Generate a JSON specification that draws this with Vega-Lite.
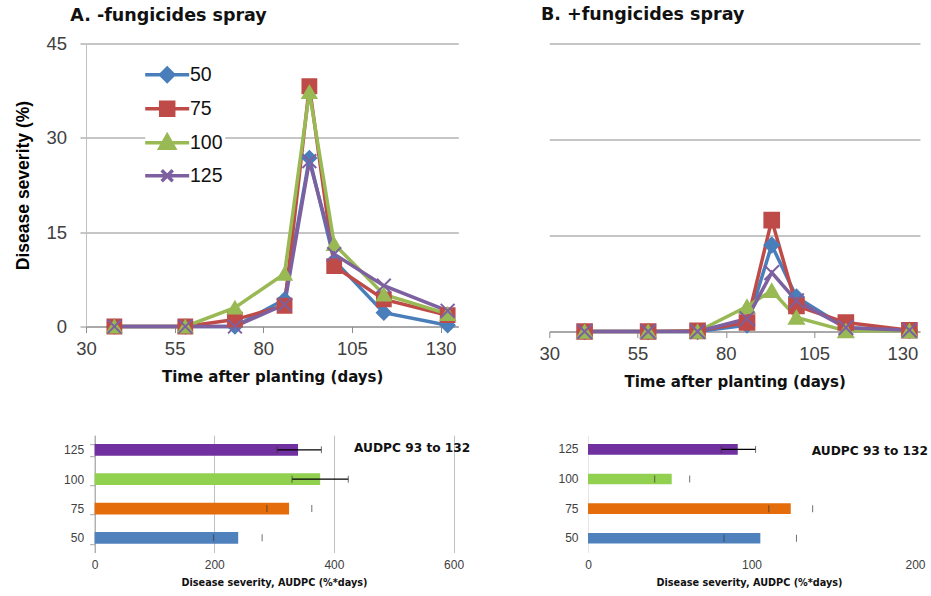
{
  "$schema": "https://vega.github.io/schema/vega-lite/v6.json",
  "background": "white",
  "padding": {"left": 14, "top": 5.5, "right": 0, "bottom": 0},
  "config": {"view": {"stroke": null}, "font": "Liberation Sans"},
  "datasets": {
    "severity": [
      {"panel": "A", "treatment": "50", "day": 38, "severity": 0},
      {"panel": "A", "treatment": "50", "day": 58, "severity": 0},
      {"panel": "A", "treatment": "50", "day": 72, "severity": 0},
      {"panel": "A", "treatment": "50", "day": 86, "severity": 4.3},
      {"panel": "A", "treatment": "50", "day": 93, "severity": 26.8},
      {"panel": "A", "treatment": "50", "day": 100, "severity": 10.5},
      {"panel": "A", "treatment": "50", "day": 114, "severity": 2.2},
      {"panel": "A", "treatment": "50", "day": 132, "severity": 0.2},
      {"panel": "A", "treatment": "75", "day": 38, "severity": 0},
      {"panel": "A", "treatment": "75", "day": 58, "severity": 0},
      {"panel": "A", "treatment": "75", "day": 72, "severity": 1.1},
      {"panel": "A", "treatment": "75", "day": 86, "severity": 3.3},
      {"panel": "A", "treatment": "75", "day": 93, "severity": 38.2},
      {"panel": "A", "treatment": "75", "day": 100, "severity": 9.6},
      {"panel": "A", "treatment": "75", "day": 114, "severity": 4.3},
      {"panel": "A", "treatment": "75", "day": 132, "severity": 1.8},
      {"panel": "A", "treatment": "100", "day": 38, "severity": 0},
      {"panel": "A", "treatment": "100", "day": 58, "severity": 0},
      {"panel": "A", "treatment": "100", "day": 72, "severity": 3.0},
      {"panel": "A", "treatment": "100", "day": 86, "severity": 8.4},
      {"panel": "A", "treatment": "100", "day": 93, "severity": 37.3},
      {"panel": "A", "treatment": "100", "day": 100, "severity": 13.1},
      {"panel": "A", "treatment": "100", "day": 114, "severity": 5.1},
      {"panel": "A", "treatment": "100", "day": 132, "severity": 2.0},
      {"panel": "A", "treatment": "125", "day": 38, "severity": 0},
      {"panel": "A", "treatment": "125", "day": 58, "severity": 0},
      {"panel": "A", "treatment": "125", "day": 72, "severity": 0},
      {"panel": "A", "treatment": "125", "day": 86, "severity": 3.5},
      {"panel": "A", "treatment": "125", "day": 93, "severity": 26.3},
      {"panel": "A", "treatment": "125", "day": 100, "severity": 11.5},
      {"panel": "A", "treatment": "125", "day": 114, "severity": 6.5},
      {"panel": "A", "treatment": "125", "day": 132, "severity": 2.5},
      {"panel": "B", "treatment": "50", "day": 40, "severity": 0},
      {"panel": "B", "treatment": "50", "day": 58, "severity": 0},
      {"panel": "B", "treatment": "50", "day": 72, "severity": 0},
      {"panel": "B", "treatment": "50", "day": 86, "severity": 1.0},
      {"panel": "B", "treatment": "50", "day": 93, "severity": 13.5},
      {"panel": "B", "treatment": "50", "day": 100, "severity": 5.4},
      {"panel": "B", "treatment": "50", "day": 114, "severity": 0.6},
      {"panel": "B", "treatment": "50", "day": 132, "severity": 0.2},
      {"panel": "B", "treatment": "75", "day": 40, "severity": 0},
      {"panel": "B", "treatment": "75", "day": 58, "severity": 0},
      {"panel": "B", "treatment": "75", "day": 72, "severity": 0.1},
      {"panel": "B", "treatment": "75", "day": 86, "severity": 1.4},
      {"panel": "B", "treatment": "75", "day": 93, "severity": 17.4},
      {"panel": "B", "treatment": "75", "day": 100, "severity": 4.0},
      {"panel": "B", "treatment": "75", "day": 114, "severity": 1.4},
      {"panel": "B", "treatment": "75", "day": 132, "severity": 0.2},
      {"panel": "B", "treatment": "100", "day": 40, "severity": 0},
      {"panel": "B", "treatment": "100", "day": 58, "severity": 0},
      {"panel": "B", "treatment": "100", "day": 72, "severity": 0},
      {"panel": "B", "treatment": "100", "day": 86, "severity": 3.9},
      {"panel": "B", "treatment": "100", "day": 93, "severity": 6.4},
      {"panel": "B", "treatment": "100", "day": 100, "severity": 2.2},
      {"panel": "B", "treatment": "100", "day": 114, "severity": 0.1},
      {"panel": "B", "treatment": "100", "day": 132, "severity": 0.1},
      {"panel": "B", "treatment": "125", "day": 40, "severity": 0},
      {"panel": "B", "treatment": "125", "day": 58, "severity": 0},
      {"panel": "B", "treatment": "125", "day": 72, "severity": 0},
      {"panel": "B", "treatment": "125", "day": 86, "severity": 2.0},
      {"panel": "B", "treatment": "125", "day": 93, "severity": 9.2},
      {"panel": "B", "treatment": "125", "day": 100, "severity": 4.8},
      {"panel": "B", "treatment": "125", "day": 114, "severity": 0.6},
      {"panel": "B", "treatment": "125", "day": 132, "severity": 0.2}
    ],
    "audpc": [
      {"panel": "A", "treatment": "125", "value": 340, "lo": 305, "hi": 379},
      {"panel": "A", "treatment": "100", "value": 377, "lo": 330, "hi": 424},
      {"panel": "A", "treatment": "75", "value": 325, "lo": 288, "hi": 363},
      {"panel": "A", "treatment": "50", "value": 240, "lo": 199, "hi": 280},
      {"panel": "B", "treatment": "125", "value": 91.6, "lo": 81.5, "hi": 102.5},
      {"panel": "B", "treatment": "100", "value": 51.2, "lo": 40.8, "hi": 62.2},
      {"panel": "B", "treatment": "75", "value": 124, "lo": 110.6, "hi": 137.4},
      {"panel": "B", "treatment": "50", "value": 105.4, "lo": 83.2, "hi": 127.5}
    ]
  },
  "columns": 2,
  "bounds": "flush",
  "align": {"row": "each", "column": "none"},
  "spacing": {"row": 103.7, "column": 90.3},
  "resolve": {"scale": {"color": "independent", "shape": "independent", "stroke": "independent"}},
  "concat": [
    {
      "width": 372.3,
      "height": 283,
      "data": {"name": "severity"},
      "transform": [{"filter": "datum.panel == 'A'"}],
      "title": {"text": "A. -fungicides spray", "anchor": "start", "frame": "group", "dx": -15.7, "offset": 9.85, "font": "DejaVu Sans", "fontSize": 17.5, "fontWeight": "bold", "color": "#111111"},
      "encoding": {
        "x": {"field": "day", "type": "quantitative", "scale": {"domain": [30, 135], "nice": false, "zero": false},
          "axis": {"values": [30, 55, 80, 105, 130], "title": "Time after planting (days)", "titleFont": "DejaVu Sans", "titleFontSize": 15, "titleFontWeight": "bold", "titleColor": "#111111", "titlePadding": 11, "labelFont": "Liberation Sans", "labelFontSize": 18.5, "labelColor": "#404040", "labelPadding": 7, "tickSize": 6, "tickColor": "#8c8c8c", "domainColor": "#8c8c8c", "grid": false, "labelFlush": false, "labelOverlap": false}},
        "y": {"field": "severity", "type": "quantitative", "scale": {"domain": [0, 45], "nice": false},
          "axis": {"values": [0, 15, 30, 45], "title": "Disease severity (%)", "titleFont": "Liberation Sans", "titleFontSize": 17.5, "titleFontWeight": "bold", "titleColor": "#000000", "titlePadding": 13, "labelFont": "Liberation Sans", "labelFontSize": 18.5, "labelColor": "#404040", "labelPadding": 13.5, "tickSize": 6, "tickColor": "#8c8c8c", "domainColor": "#c0c0c0", "grid": true, "gridColor": "#8c8c8c", "labelFlush": false}}
      },
      "layer": [
        {"mark": {"type": "line", "strokeWidth": 3.5},
          "encoding": {"color": {"field": "treatment", "type": "nominal", "scale": {"domain": ["50", "75", "100", "125"], "range": ["#4A7EBB", "#BE4B48", "#98B954", "#7D60A0"]}, "legend": null}}},
        {"mark": {"type": "point", "filled": true, "size": 190, "strokeWidth": 2, "opacity": 1},
          "encoding": {
            "color": {"field": "treatment", "type": "nominal", "scale": {"domain": ["50", "75", "100", "125"], "range": ["#4A7EBB", "#BE4B48", "#98B954", "#7D60A0"]}, "legend": null},
            "stroke": {"field": "treatment", "type": "nominal", "scale": {"domain": ["50", "75", "100", "125"], "range": ["#4A7EBB", "#BE4B48", "#98B954", "#7D60A0"]}, "legend": null},
            "shape": {"field": "treatment", "type": "nominal", "scale": {"domain": ["50", "75", "100", "125"], "range": ["diamond", "square", "triangle-up", "M-1,-1L1,1M-1,1L1,-1"]}, "legend": null}
          }},
        {"transform": [{"filter": "datum.day < 0"}],
          "mark": {"type": "point", "filled": true, "size": 1267, "strokeWidth": 3.5, "opacity": 1},
          "encoding": {
            "color": {"field": "treatment", "type": "nominal", "scale": {"domain": ["50", "75", "100", "125"], "range": ["#4A7EBB", "#BE4B48", "#98B954", "#7D60A0"]},
              "legend": {"orient": "none", "legendX": 59.2, "legendY": 9.2, "title": null, "symbolSize": 1267, "symbolStrokeWidth": 3.5, "labelFont": "Liberation Sans", "labelFontSize": 19.5, "labelColor": "#111111", "labelOffset": 2.8, "rowPadding": 0, "padding": 2, "fillColor": "white"}},
            "stroke": {"field": "treatment", "type": "nominal", "scale": {"domain": ["50", "75", "100", "125"], "range": ["#4A7EBB", "#BE4B48", "#98B954", "#7D60A0"]},
              "legend": {"orient": "none", "legendX": 59.2, "legendY": 9.2, "title": null, "symbolSize": 1267, "symbolStrokeWidth": 3.5, "labelFont": "Liberation Sans", "labelFontSize": 19.5, "labelColor": "#111111", "labelOffset": 2.8, "rowPadding": 0, "padding": 2, "fillColor": "white"}},
            "shape": {"field": "treatment", "type": "nominal", "scale": {"domain": ["50", "75", "100", "125"], "range": ["M-1.236,0H1.236M0,-0.365L0.365,0L0,0.365L-0.365,0Z", "M-1.236,0H1.236M-0.365,-0.365H0.365V0.365H-0.365Z", "M-1.236,0H1.236M0,-0.41L0.41,0.31H-0.41Z", "M-1.236,0H1.236M-0.31,-0.31L0.31,0.31M-0.31,0.31L0.31,-0.31"]},
              "legend": {"orient": "none", "legendX": 59.2, "legendY": 9.2, "title": null, "symbolSize": 1267, "symbolStrokeWidth": 3.5, "labelFont": "Liberation Sans", "labelFontSize": 19.5, "labelColor": "#111111", "labelOffset": 2.8, "rowPadding": 0, "padding": 2, "fillColor": "white"}}
          }}
      ],
      "resolve": {"scale": {"color": "independent", "shape": "independent", "stroke": "independent"}}
    },
    {
      "width": 370.7,
      "height": 288,
      "data": {"name": "severity"},
      "transform": [{"filter": "datum.panel == 'B'"}],
      "title": {"text": "B. +fungicides spray", "anchor": "start", "frame": "group", "dx": -8.3, "offset": 20, "font": "DejaVu Sans", "fontSize": 17.5, "fontWeight": "bold", "color": "#111111"},
      "encoding": {
        "x": {"field": "day", "type": "quantitative", "scale": {"domain": [30, 135], "nice": false, "zero": false},
          "axis": {"values": [30, 55, 80, 105, 130], "title": "Time after planting (days)", "titleFont": "DejaVu Sans", "titleFontSize": 15, "titleFontWeight": "bold", "titleColor": "#111111", "titlePadding": 11, "labelFont": "Liberation Sans", "labelFontSize": 18.5, "labelColor": "#404040", "labelPadding": 7, "tickSize": 6, "tickColor": "#8c8c8c", "domainColor": "#8c8c8c", "grid": false, "labelFlush": false, "labelOverlap": false}},
        "y": {"field": "severity", "type": "quantitative", "scale": {"domain": [0, 45], "nice": false},
          "axis": {"values": [0, 15, 30, 45], "title": null, "labels": false, "ticks": false, "domain": false, "grid": true, "gridColor": "#8c8c8c"}}
      },
      "layer": [
        {"mark": {"type": "line", "strokeWidth": 3.5},
          "encoding": {"color": {"field": "treatment", "type": "nominal", "scale": {"domain": ["50", "75", "100", "125"], "range": ["#4A7EBB", "#BE4B48", "#98B954", "#7D60A0"]}, "legend": null}}},
        {"mark": {"type": "point", "filled": true, "size": 215, "strokeWidth": 2, "opacity": 1},
          "encoding": {
            "color": {"field": "treatment", "type": "nominal", "scale": {"domain": ["50", "75", "100", "125"], "range": ["#4A7EBB", "#BE4B48", "#98B954", "#7D60A0"]}, "legend": null},
            "stroke": {"field": "treatment", "type": "nominal", "scale": {"domain": ["50", "75", "100", "125"], "range": ["#4A7EBB", "#BE4B48", "#98B954", "#7D60A0"]}, "legend": null},
            "shape": {"field": "treatment", "type": "nominal", "scale": {"domain": ["50", "75", "100", "125"], "range": ["diamond", "square", "triangle-up", "M-1,-1L1,1M-1,1L1,-1"]}, "legend": null}
          }}
      ],
      "resolve": {"scale": {"color": "independent", "shape": "independent", "stroke": "independent"}}
    },
    {
      "width": 367.6,
      "height": 117.3,
      "data": {"name": "audpc"},
      "transform": [{"filter": "datum.panel == 'A'"}],
      "title": {"text": "AUDPC 93 to 132", "anchor": "end", "frame": "group", "dx": 16.7, "offset": -25, "font": "DejaVu Sans", "fontSize": 12.2, "fontWeight": "bold", "color": "#111111"},
      "encoding": {
        "y": {"field": "treatment", "type": "nominal", "sort": ["125", "100", "75", "50"], "scale": {"domain": ["125", "100", "75", "50"], "paddingInner": 0.6, "paddingOuter": 0.3},
          "axis": {"title": null, "offset": -8.6, "domain": true, "domainColor": "#a6a6a6", "ticks": true, "tickBand": "extent", "tickSize": 5, "tickColor": "#a6a6a6", "labelFont": "Liberation Sans", "labelFontSize": 12, "labelColor": "#404040", "labelPadding": 6, "grid": false}}
      },
      "layer": [
        {"mark": {"type": "bar"},
          "encoding": {
            "x": {"field": "value", "type": "quantitative", "scale": {"domain": [-14.37, 600], "nice": false, "zero": false},
              "axis": {"values": [0, 200, 400, 600], "title": "Disease severity, AUDPC (%*days)", "titleX": 188, "titleFont": "DejaVu Sans", "titleFontSize": 9.7, "titleFontWeight": "bold", "titleColor": "#111111", "titlePadding": 7, "labelFont": "Liberation Sans", "labelFontSize": 12, "labelColor": "#404040", "labelPadding": 7, "ticks": false, "tickSize": 0, "domain": false, "grid": true, "gridColor": "#c0c0c0", "labelFlush": false}},
            "x2": {"datum": 0},
            "color": {"field": "treatment", "type": "nominal", "scale": {"domain": ["50", "75", "100", "125"], "range": ["#4F81BD", "#E46C0A", "#92D050", "#7030A0"]}, "legend": null}
          }},
        {"mark": {"type": "rule", "color": "#000000", "strokeWidth": 1.3},
          "encoding": {
            "x": {"field": "lo", "type": "quantitative"},
            "x2": {"field": "hi"},
            "strokeOpacity": {"condition": {"test": "datum.treatment == '125' || datum.treatment == '100'", "value": 1}, "value": 0}
          }},
        {"mark": {"type": "tick", "orient": "vertical", "color": "#333333", "thickness": 1, "size": 7},
          "encoding": {"x": {"field": "lo", "type": "quantitative"}}},
        {"mark": {"type": "tick", "orient": "vertical", "color": "#333333", "thickness": 1, "size": 7},
          "encoding": {"x": {"field": "hi", "type": "quantitative"}}}
      ]
    },
    {
      "width": 365.7,
      "height": 117.3,
      "data": {"name": "audpc"},
      "transform": [{"filter": "datum.panel == 'B'"}],
      "title": {"text": "AUDPC 93 to 132", "anchor": "end", "frame": "group", "dx": 13, "offset": -22, "font": "DejaVu Sans", "fontSize": 12.2, "fontWeight": "bold", "color": "#111111"},
      "encoding": {
        "y": {"field": "treatment", "type": "nominal", "sort": ["125", "100", "75", "50"], "scale": {"domain": ["125", "100", "75", "50"], "paddingInner": 0.64, "paddingOuter": 0.3},
          "axis": {"title": null, "offset": -38.7, "domain": true, "domainColor": "#e6e6e6", "ticks": false, "labelFont": "Liberation Sans", "labelFontSize": 12, "labelColor": "#404040", "labelPadding": 10, "grid": false}}
      },
      "layer": [
        {"mark": {"type": "bar"},
          "encoding": {
            "x": {"field": "value", "type": "quantitative", "scale": {"domain": [-23.67, 200], "nice": false, "zero": false},
              "axis": {"values": [0, 100, 200], "title": "Disease severity, AUDPC (%*days)", "titleX": 199.7, "titleFont": "DejaVu Sans", "titleFontSize": 9.7, "titleFontWeight": "bold", "titleColor": "#111111", "titlePadding": 7, "labelFont": "Liberation Sans", "labelFontSize": 12, "labelColor": "#404040", "labelPadding": 7, "ticks": false, "tickSize": 0, "domain": false, "grid": false, "labelFlush": false}},
            "x2": {"datum": 0},
            "color": {"field": "treatment", "type": "nominal", "scale": {"domain": ["50", "75", "100", "125"], "range": ["#4F81BD", "#E46C0A", "#92D050", "#7030A0"]}, "legend": null}
          }},
        {"mark": {"type": "rule", "color": "#000000", "strokeWidth": 1.3},
          "encoding": {
            "x": {"field": "lo", "type": "quantitative"},
            "x2": {"field": "hi"},
            "strokeOpacity": {"condition": {"test": "datum.treatment == '125'", "value": 1}, "value": 0}
          }},
        {"mark": {"type": "tick", "orient": "vertical", "color": "#333333", "thickness": 1, "size": 7},
          "encoding": {"x": {"field": "lo", "type": "quantitative"}}},
        {"mark": {"type": "tick", "orient": "vertical", "color": "#333333", "thickness": 1, "size": 7},
          "encoding": {"x": {"field": "hi", "type": "quantitative"}}}
      ]
    }
  ]
}
